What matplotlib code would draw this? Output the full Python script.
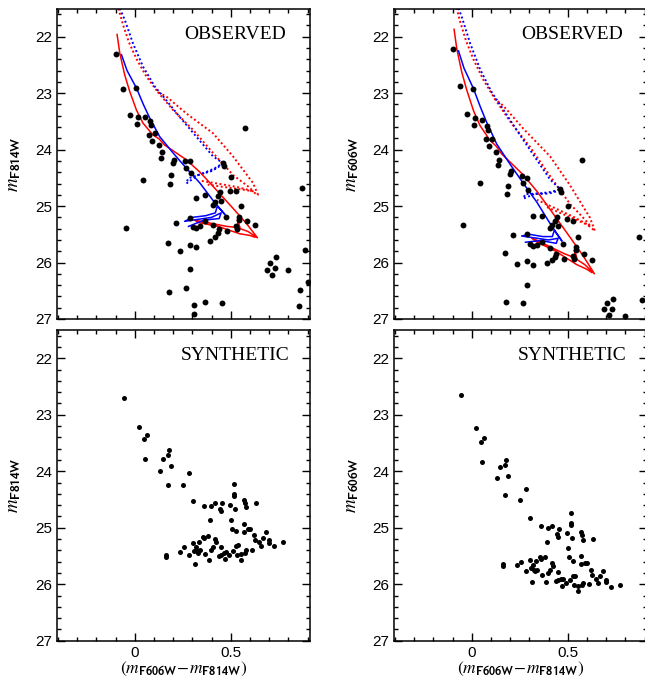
import matplotlib
matplotlib.use("Agg")
import matplotlib.pyplot as plt
import numpy as np
from matplotlib.ticker import MultipleLocator, FixedLocator

plt.rcParams['font.family'] = ['Liberation Sans', 'DejaVu Sans']
plt.rcParams['mathtext.fontset'] = 'stix'

# ---------------- data ----------------
# observed stars: colour (F606W-F814W) and F814W magnitude
obs_color = [-0.10, -0.061, 0.009, -0.026, 0.017, 0.014, 0.052, 0.078, 0.085, 0.104,
             0.075, 0.092, 0.127, 0.043, -0.048, 0.576,
             0.144, 0.139, 0.203, 0.200, 0.260, 0.286, 0.266, 0.292, 0.188, 0.184,
             0.321, 0.368, 0.460, 0.465, 0.504, 0.495, 0.530, 0.443, 0.434, 0.450,
             0.417, 0.408, 0.556, 0.477, 0.543, 0.542, 0.585, 0.625, 0.530, 0.533,
             0.480, 0.440, 0.434, 0.417, 0.390, 0.214, 0.290, 0.304, 0.321, 0.339,
             0.365, 0.408, 0.290, 0.318, 0.238, 0.174, 0.290, 0.266, 0.179, 0.307,
             0.309, 0.368, 0.455, 0.703, 0.689, 0.715, 0.729, 0.736, 0.800, 0.873,
             0.887, 0.901, 0.859, 0.856]
obs_f814w = [22.31, 22.93, 22.91, 23.39, 23.43, 23.55, 23.43, 23.50, 23.57, 23.71,
             23.74, 23.84, 23.92, 24.54, 25.39, 23.61,
             24.04, 24.14, 24.18, 24.23, 24.21, 24.21, 24.33, 24.42, 24.45, 24.60,
             24.86, 24.80, 24.24, 24.29, 24.49, 24.73, 24.74, 24.75, 24.83, 24.91,
             24.92, 24.98, 25.00, 25.20, 25.19, 25.24, 25.27, 25.33, 25.35, 25.41,
             25.45, 25.41, 25.47, 25.54, 25.61, 25.30, 25.21, 25.37, 25.38, 25.35,
             25.27, 25.33, 25.69, 25.72, 25.79, 25.66, 26.11, 26.45, 26.52, 26.76,
             26.91, 26.70, 26.71, 26.01, 26.13, 26.22, 26.09, 25.91, 26.14, 24.68,
             25.78, 26.34, 26.49, 26.77]

# synthetic stars
syn_color = [-0.057, 0.021, 0.066, 0.049, 0.052, 0.179, 0.175, 0.148, 0.189, 0.134,
             0.283, 0.172, 0.252, 0.304, 0.517, 0.517, 0.517, 0.361, 0.396, 0.417,
             0.457, 0.443, 0.448, 0.495, 0.523, 0.570, 0.576, 0.582, 0.634, 0.394,
             0.500, 0.505, 0.570, 0.590, 0.602, 0.530, 0.570, 0.682, 0.621, 0.625,
             0.668, 0.700, 0.697, 0.646, 0.658, 0.772, 0.726, 0.613, 0.576, 0.554,
             0.552, 0.580, 0.530, 0.535, 0.510, 0.478, 0.490, 0.472, 0.448, 0.441,
             0.448, 0.420, 0.425, 0.408, 0.396, 0.359, 0.335, 0.318, 0.306, 0.380,
             0.358, 0.340, 0.330, 0.322, 0.309, 0.365, 0.387, 0.314, 0.283, 0.257,
             0.238, 0.161, 0.165, 0.536, 0.466]
syn_f814w = [22.70, 23.22, 23.35, 23.43, 23.78, 23.63, 23.71, 23.78, 23.90, 23.99,
             24.03, 24.25, 24.25, 24.53, 24.22, 24.40, 24.44, 24.61, 24.61, 24.56,
             24.57, 24.67, 24.71, 24.60, 24.66, 24.51, 24.56, 24.63, 24.57, 24.86,
             24.86, 25.02, 24.93, 25.03, 25.03, 25.06, 25.08, 25.08, 25.13, 25.21,
             25.19, 25.22, 25.27, 25.26, 25.32, 25.25, 25.32, 25.39, 25.44, 25.47,
             25.57, 25.40, 25.32, 25.48, 25.41, 25.43, 25.48, 25.56, 25.48, 25.50,
             25.34, 25.20, 25.26, 25.34, 25.40, 25.19, 25.26, 25.34, 25.27, 25.14,
             25.16, 25.40, 25.44, 25.42, 25.41, 25.47, 25.58, 25.64, 25.48, 25.35,
             25.43, 25.48, 25.52, 25.31, 25.45]

# isochrones (colour, F814W)
red_solid_c = [-0.092, -0.078, -0.052, -0.026, 0.009, 0.043, 0.095, 0.127, 0.156, 0.217,
               0.269, 0.340, 0.408, 0.512, 0.580, 0.639, 0.590, 0.550, 0.535, 0.540,
               0.480, 0.390, 0.313, 0.330, 0.434, 0.547, 0.600, 0.625]
red_solid_m = [21.96, 22.29, 22.68, 22.97, 23.30, 23.53, 23.74, 23.81, 23.92, 24.06,
               24.18, 24.40, 24.65, 25.04, 25.30, 25.56, 25.45, 25.40, 25.24, 25.38,
               25.36, 25.30, 25.25, 25.29, 25.36, 25.49, 25.52, 25.55]
blue_solid_c = [-0.069, -0.040, 0.009, 0.045, 0.078, 0.130, 0.200, 0.269, 0.339, 0.408,
                0.470, 0.430, 0.420, 0.370, 0.300, 0.260, 0.320, 0.400, 0.450, 0.440,
                0.360, 0.280]
blue_solid_m = [22.32, 22.60, 22.91, 23.20, 23.44, 23.77, 24.06, 24.33, 24.59, 24.90,
                25.15, 25.00, 25.12, 25.17, 25.20, 25.27, 25.24, 25.20, 25.12, 25.22,
                25.25, 25.36]
red_dot1_c = [-0.085, -0.060, -0.030, 0.010, 0.060, 0.120, 0.165, 0.269, 0.408, 0.512,
              0.616, 0.642, 0.600, 0.530, 0.430, 0.340]
red_dot1_m = [21.50, 21.80, 22.10, 22.40, 22.70, 22.98, 23.06, 23.36, 23.71, 24.12,
              24.59, 24.80, 24.72, 24.66, 24.60, 24.55]
red_dot2_c = [0.120, 0.200, 0.304, 0.408, 0.512, 0.590, 0.620, 0.550, 0.460, 0.380]
red_dot2_m = [22.98, 23.30, 23.65, 24.06, 24.45, 24.65, 24.74, 24.70, 24.66, 24.62]
blue_dot_c = [-0.078, -0.052, -0.009, 0.043, 0.104, 0.156, 0.234, 0.321, 0.408, 0.460,
              0.417, 0.356, 0.278, 0.269, 0.330, 0.400, 0.440]
blue_dot_m = [21.50, 21.70, 22.12, 22.53, 22.88, 23.09, 23.42, 23.77, 24.12, 24.24,
              24.33, 24.42, 24.51, 24.60, 24.45, 24.38, 24.30]

ytick_vals = [22, 23, 24, 25, 26, 27]
xtick_vals = [0, 0.5]
xtick_labels = ['0', '0.5']
panel_titles = ['OBSERVED', 'SYNTHETIC']
band_names = ['F814W', 'F606W']

# ---------------- figure ----------------
W, H = 645, 680
fig = plt.figure(figsize=(W / 100, H / 100), dpi=100)

def frac(x0, y0, x1, y1):
    return [x0 / W, 1 - y1 / H, (x1 - x0) / W, (y1 - y0) / H]

boxes = {
    (0, 0): frac(57, 8.5, 310, 319),
    (0, 1): frac(394, 8.5, 647, 319),
    (1, 0): frac(57, 330, 310, 640.7),
    (1, 1): frac(394, 330, 647, 640.7),
}

def to_band(c_list, m_list, col):
    c = np.asarray(c_list)
    m = np.asarray(m_list)
    return c, (m + c if col == 1 else m)   # m606 = m814 + (m606 - m814)

dot_ls = (0, (1, 1.3))
for (row, col), box in boxes.items():
    ax = fig.add_axes(box)
    ax.set_xlim(-0.405, 0.913)
    ax.set_ylim(27, 21.5)
    if row == 0:
        for cl, ml, colr, ls, lw in [(red_dot1_c, red_dot1_m, 'red', dot_ls, 1.4),
                                     (red_dot2_c, red_dot2_m, 'red', dot_ls, 1.4),
                                     (blue_dot_c, blue_dot_m, 'blue', dot_ls, 1.4),
                                     (red_solid_c, red_solid_m, 'red', '-', 1.1),
                                     (blue_solid_c, blue_solid_m, 'blue', '-', 1.1)]:
            x, y = to_band(cl, ml, col)
            ax.plot(x, y, color=colr, ls=ls, lw=lw, zorder=2)
        x, y = to_band(obs_color, obs_f814w, col)
        ax.scatter(x, y, s=18, c='black', linewidths=0, zorder=3)
    else:
        x, y = to_band(syn_color, syn_f814w, col)
        ax.scatter(x, y, s=13, c='black', linewidths=0, zorder=3)

    ax.text(0.905 if row == 0 else 0.92, 0.917, panel_titles[row], transform=ax.transAxes,
            ha='right', va='center', fontsize=14, family='Liberation Serif')

    ax.yaxis.set_major_locator(FixedLocator(ytick_vals))
    ax.yaxis.set_minor_locator(MultipleLocator(0.2))
    ax.xaxis.set_major_locator(FixedLocator(xtick_vals))
    ax.xaxis.set_minor_locator(MultipleLocator(0.1))
    ax.tick_params(which='both', direction='in', top=True, right=True, width=1.0)
    ax.tick_params(which='major', length=5.5, labelsize=11)
    ax.tick_params(which='minor', length=3)
    ax.set_yticklabels([str(v) for v in ytick_vals])
    if row == 0:
        ax.set_xticklabels([])
    else:
        ax.set_xticklabels(xtick_labels)
        ax.set_xlabel(r'$(m_{\mathbf{\mathsf{F606W}}}\!-\!m_{\mathbf{\mathsf{F814W}}})$',
                      fontsize=12.5, labelpad=0)
    ax.set_ylabel(r'$m_{\mathbf{\mathsf{' + band_names[col] + '}}}$', fontsize=13.5)
    ax.yaxis.set_label_coords(-0.135 if col == 0 else -0.13, 0.5)
    for sp in ax.spines.values():
        sp.set_linewidth(1.1)

fig.savefig('out.png', dpi=100)
